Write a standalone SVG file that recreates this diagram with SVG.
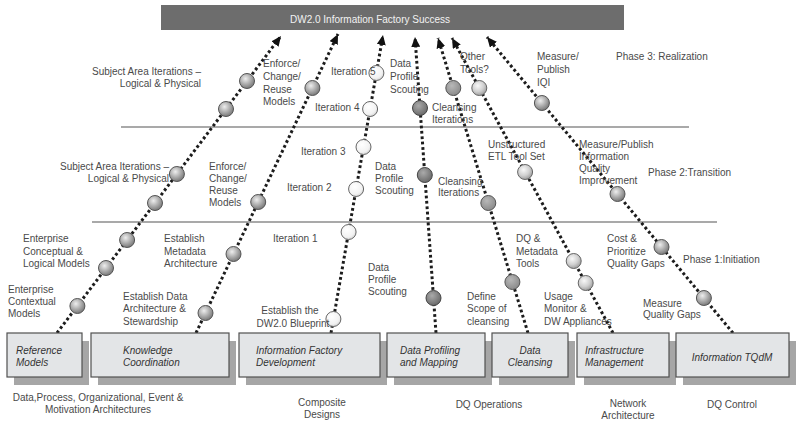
<svg xmlns="http://www.w3.org/2000/svg" width="798" height="432" viewBox="0 0 798 432">
<style>
text{font-family:"Liberation Sans",Arial,sans-serif;font-size:10px;fill:#4a4a4a}
.bx{fill:#e3e5e7;stroke:#505050;stroke-width:1.2}
.sh{fill:#a6a6a6}
.bt{font-style:italic;fill:#333}
.dot{fill:none;stroke:#1c1c1c;stroke-width:3;stroke-dasharray:2.8 2.6;marker-end:url(#ah)}
.ph{stroke:#555;stroke-width:1.2}
.cm{fill:url(#gm);stroke:#555;stroke-width:1}
.cl{fill:url(#gl);stroke:#666;stroke-width:1}
.cd{fill:url(#gd);stroke:#444;stroke-width:1}
.ce{fill:url(#ge);stroke:#555;stroke-width:1}
.cf{fill:url(#gf);stroke:#666;stroke-width:1}
</style>
<defs>
<marker id="ah" markerUnits="userSpaceOnUse" markerWidth="11" markerHeight="9" refX="10" refY="4.5" orient="auto">
<path d="M0,0 L10,4.5 L0,9 z" fill="#111"/>
</marker>
<radialGradient id="gm" cx="0.4" cy="0.35" r="0.65"><stop offset="0" stop-color="#eeeeee"/><stop offset="0.6" stop-color="#a8a8a8"/><stop offset="1" stop-color="#7a7a7a"/></radialGradient>
<radialGradient id="gl" cx="0.4" cy="0.35" r="0.7"><stop offset="0" stop-color="#ffffff"/><stop offset="0.7" stop-color="#f2f2f2"/><stop offset="1" stop-color="#d0d0d0"/></radialGradient>
<radialGradient id="gd" cx="0.4" cy="0.35" r="0.7"><stop offset="0" stop-color="#aaaaaa"/><stop offset="1" stop-color="#666666"/></radialGradient>
<radialGradient id="ge" cx="0.4" cy="0.35" r="0.7"><stop offset="0" stop-color="#b8b8b8"/><stop offset="1" stop-color="#888888"/></radialGradient>
<radialGradient id="gf" cx="0.4" cy="0.35" r="0.65"><stop offset="0" stop-color="#f8f8f8"/><stop offset="0.6" stop-color="#d0d0d0"/><stop offset="1" stop-color="#a0a0a0"/></radialGradient>
</defs>
<rect width="798" height="432" fill="#ffffff"/>

<g id="goal">
<rect x="161" y="5" width="463" height="25" fill="#6d6d6d"/>
<text x="290" y="23" style="fill:#f2f2f2">DW2.0 Information Factory Success</text>
</g>

<g id="phases">
<line class="ph" x1="121" y1="127" x2="689" y2="127"/>
<line class="ph" x1="92" y1="222" x2="717" y2="222"/>
<text x="616" y="60">Phase 3: Realization</text>
<text x="648" y="176">Phase 2:Transition</text>
<text x="683" y="263">Phase 1:Initiation</text>
</g>

<g id="connectors">
<line class="dot" x1="57" y1="333" x2="281" y2="36"/>
<line class="dot" x1="196" y1="333" x2="338" y2="34"/>
<line class="dot" x1="331" y1="333" x2="383" y2="35"/>
<line class="dot" x1="436" y1="333" x2="415" y2="37"/>
<line class="dot" x1="528" y1="333" x2="438" y2="38"/>
<line class="dot" x1="613" y1="333" x2="452" y2="38"/>
<line class="dot" x1="733" y1="333" x2="487" y2="37"/>
</g>

<g id="milestones">
<circle class="cm" cx="77.4" cy="306" r="7.5"/>
<circle class="cm" cx="106" cy="268" r="7.5"/>
<circle class="cm" cx="127.1" cy="240" r="7.5"/>
<circle class="cm" cx="155" cy="203" r="7.5"/>
<circle class="cm" cx="176.9" cy="174" r="7.5"/>
<circle class="cm" cx="226" cy="109" r="7.5"/>
<circle class="cm" cx="247" cy="81" r="7.5"/>
<circle class="cm" cx="205.5" cy="313" r="7.5"/>
<circle class="cm" cx="233.5" cy="254" r="7.5"/>
<circle class="cm" cx="258.2" cy="202" r="7.5"/>
<circle class="cm" cx="312.4" cy="88" r="7.5"/>
<circle class="cl" cx="333.4" cy="319" r="7.5"/>
<circle class="cl" cx="348.6" cy="232" r="7.5"/>
<circle class="cl" cx="356.1" cy="189" r="7.5"/>
<circle class="cl" cx="363.5" cy="147" r="7.5"/>
<circle class="cl" cx="370.1" cy="109" r="7.5"/>
<circle class="cl" cx="376.4" cy="73" r="7.5"/>
<circle class="cd" cx="420" cy="108" r="7.5"/>
<circle class="cd" cx="424.8" cy="175" r="7.5"/>
<circle class="cd" cx="433.5" cy="298" r="7.5"/>
<circle class="ce" cx="453.3" cy="88" r="7.5"/>
<circle class="ce" cx="488.3" cy="203" r="7.5"/>
<circle class="ce" cx="512.4" cy="282" r="7.5"/>
<circle class="cf" cx="479.3" cy="88" r="7.5"/>
<circle class="cf" cx="525.1" cy="172" r="7.5"/>
<circle class="cf" cx="573.7" cy="261" r="7.5"/>
<circle class="cf" cx="585.7" cy="283" r="7.5"/>
<circle class="cm" cx="541.9" cy="103" r="7.5"/>
<circle class="cm" cx="617.5" cy="194" r="7.5"/>
<circle class="cm" cx="661.5" cy="247" r="7.5"/>
<circle class="cm" cx="703.9" cy="298" r="7.5"/>
</g>

<g id="labels">
<text x="201" y="75" text-anchor="end">Subject Area Iterations –</text>
<text x="201" y="87" text-anchor="end">Logical &amp; Physical</text>
<text x="263" y="67">Enforce/</text>
<text x="263" y="80">Change/</text>
<text x="263" y="93">Reuse</text>
<text x="263" y="105">Models</text>
<text x="331" y="75">Iteration 5</text>
<text x="315" y="111">Iteration 4</text>
<text x="390" y="67">Data</text>
<text x="390" y="80">Profile</text>
<text x="390" y="93">Scouting</text>
<text x="460" y="60">Other</text>
<text x="460" y="73">Tools?</text>
<text x="537" y="60">Measure/</text>
<text x="537" y="73">Publish</text>
<text x="537" y="86">IQI</text>
<text x="432" y="111">Cleansing</text>
<text x="432" y="123">Iterations</text>

<text x="169" y="170" text-anchor="end">Subject Area Iterations –</text>
<text x="169" y="182" text-anchor="end">Logical &amp; Physical</text>
<text x="209" y="170">Enforce/</text>
<text x="209" y="182">Change/</text>
<text x="209" y="194">Reuse</text>
<text x="209" y="206">Models</text>
<text x="301" y="155">Iteration 3</text>
<text x="287" y="191">Iteration 2</text>
<text x="375" y="170">Data</text>
<text x="375" y="182">Profile</text>
<text x="375" y="194">Scouting</text>
<text x="438" y="185">Cleansing</text>
<text x="438" y="196">Iterations</text>
<text x="488" y="148">Unstructured</text>
<text x="488" y="160">ETL Tool Set</text>
<text x="579" y="148">Measure/Publish</text>
<text x="579" y="160">Information</text>
<text x="579" y="172">Quality</text>
<text x="579" y="184">Improvement</text>

<text x="23" y="242">Enterprise</text>
<text x="23" y="255">Conceptual &amp;</text>
<text x="23" y="267">Logical Models</text>
<text x="8" y="293">Enterprise</text>
<text x="8" y="305">Contextual</text>
<text x="8" y="317">Models</text>
<text x="164" y="242">Establish</text>
<text x="164" y="255">Metadata</text>
<text x="164" y="267">Architecture</text>
<text x="123" y="300">Establish Data</text>
<text x="123" y="312">Architecture &amp;</text>
<text x="123" y="325">Stewardship</text>
<text x="273" y="242">Iteration 1</text>
<text x="290" y="314" text-anchor="middle">Establish the</text>
<text x="293" y="327" text-anchor="middle">DW2.0 Blueprint</text>
<text x="368" y="271">Data</text>
<text x="368" y="283">Profile</text>
<text x="368" y="295">Scouting</text>
<text x="467" y="300">Define</text>
<text x="467" y="312">Scope of</text>
<text x="467" y="325">cleansing</text>
<text x="516" y="242">DQ &amp;</text>
<text x="516" y="255">Metadata</text>
<text x="516" y="267">Tools</text>
<text x="544" y="300">Usage</text>
<text x="544" y="312">Monitor &amp;</text>
<text x="544" y="325">DW Appliances</text>
<text x="607" y="242">Cost &amp;</text>
<text x="607" y="255">Prioritize</text>
<text x="607" y="267">Quality Gaps</text>
<text x="643" y="307">Measure</text>
<text x="643" y="318">Quality Gaps</text>
</g>

<g id="reference-models">
<rect class="sh" x="14" y="341" width="75" height="44"/>
<rect class="bx" x="7" y="333" width="75" height="44"/>
<text class="bt" x="16" y="354">Reference</text>
<text class="bt" x="16" y="366">Models</text>
</g>
<g id="knowledge-coordination">
<rect class="sh" x="98" y="341" width="138" height="44"/>
<rect class="bx" x="91" y="333" width="138" height="44"/>
<text class="bt" x="123" y="354">Knowledge</text>
<text class="bt" x="123" y="366">Coordination</text>
</g>
<g id="information-factory-development">
<rect class="sh" x="246" y="341" width="141" height="44"/>
<rect class="bx" x="239" y="333" width="141" height="44"/>
<text class="bt" x="256" y="354">Information Factory</text>
<text class="bt" x="256" y="366">Development</text>
</g>
<g id="data-profiling">
<rect class="sh" x="394" y="341" width="98" height="44"/>
<rect class="bx" x="387" y="333" width="98" height="44"/>
<text class="bt" x="400" y="354">Data Profiling</text>
<text class="bt" x="400" y="366">and Mapping</text>
</g>
<g id="data-cleansing">
<rect class="sh" x="499" y="341" width="76" height="44"/>
<rect class="bx" x="492" y="333" width="76" height="44"/>
<text class="bt" x="530" y="354" text-anchor="middle">Data</text>
<text class="bt" x="530" y="366" text-anchor="middle">Cleansing</text>
</g>
<g id="infrastructure-management">
<rect class="sh" x="584" y="341" width="92" height="44"/>
<rect class="bx" x="577" y="333" width="92" height="44"/>
<text class="bt" x="585" y="354">Infrastructure</text>
<text class="bt" x="585" y="366">Management</text>
</g>
<g id="information-tqdm">
<rect class="sh" x="683" y="341" width="113" height="44"/>
<rect class="bx" x="676" y="333" width="113" height="44"/>
<text class="bt" x="732" y="361" text-anchor="middle">Information TQdM</text>
</g>

<g id="bottom-notes">
<text x="98" y="401" text-anchor="middle">Data,Process, Organizational, Event &amp;</text>
<text x="98" y="413" text-anchor="middle">Motivation Architectures</text>
<text x="322" y="406" text-anchor="middle">Composite</text>
<text x="322" y="418" text-anchor="middle">Designs</text>
<text x="489" y="408" text-anchor="middle">DQ Operations</text>
<text x="628" y="407" text-anchor="middle">Network</text>
<text x="628" y="419" text-anchor="middle">Architecture</text>
<text x="732" y="408" text-anchor="middle">DQ Control</text>
</g>
</svg>
